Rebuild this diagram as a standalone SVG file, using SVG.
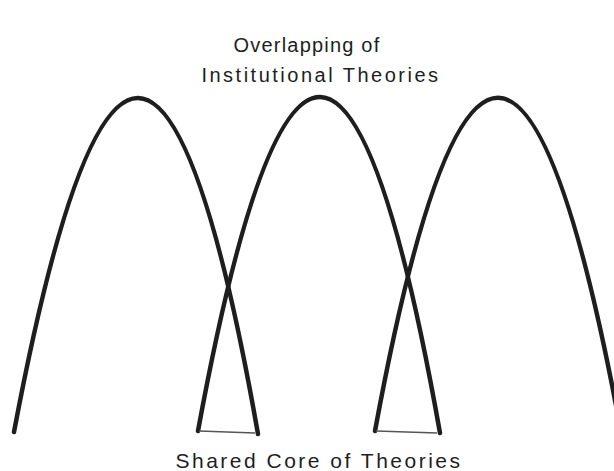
<svg xmlns="http://www.w3.org/2000/svg" width="614" height="471" viewBox="0 0 614 471">
<style>
.arch{fill:none;stroke:#1e1e1e;stroke-width:4.5;stroke-linecap:round}
.base{fill:none;stroke:#555;stroke-width:1.5}
.lbl{font-family:"Liberation Sans",Arial,sans-serif;font-size:20px;fill:#1e1e1e;letter-spacing:2.5px;text-anchor:middle}
</style>
<rect width="614" height="471" fill="#fff"/>
<g id="title"><text class="lbl" x="307" y="52" style="letter-spacing:1.2px">Overlapping of</text><text class="lbl" x="321" y="82">Institutional Theories</text></g>
<g id="arch1"><path class="arch" d="M14,432 Q140,-237 258,434"/></g>
<g id="arch2"><path class="arch" d="M198,431 Q321,-238 440,433"/></g>
<g id="arch3"><path class="arch" d="M375,431 Q498,-236 621,432"/></g>
<g id="connectors"><path class="base" d="M199,431 L255,433"/><path class="base" d="M376,431 L437,433"/></g>
<g id="core"><text class="lbl" x="319" y="468" style="font-size:21px">Shared Core of Theories</text></g>
</svg>
